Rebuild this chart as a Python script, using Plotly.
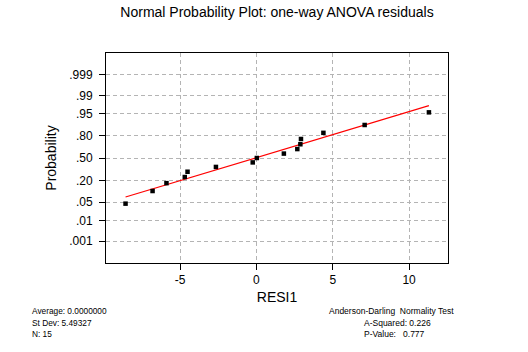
from statistics import NormalDist
import plotly.graph_objects as go

# ---- data ----
residuals = [-8.57, -6.80, -5.89, -4.69, -4.51, -2.65, -0.24, 0.03,
             1.80, 2.68, 2.88, 2.92, 4.39, 7.09, 11.30]
probabilities = [0.045, 0.110, 0.175, 0.240, 0.305, 0.370, 0.435, 0.500,
                 0.565, 0.630, 0.695, 0.760, 0.825, 0.890, 0.955]
fit_x = [-8.57, 11.30]
fit_prob = [0.0735, 0.974]
prob_ticks = [0.001, 0.01, 0.05, 0.20, 0.50, 0.80, 0.95, 0.99, 0.999]
prob_tick_labels = [".001", ".01", ".05", ".20", ".50", ".80", ".95", ".99", ".999"]
x_ticks = [-5, 0, 5, 10]
stats_left = ["Average: 0.0000000", "St Dev: 5.49327", "N: 15"]
stats_right = ["Anderson-Darling  Normality Test", "A-Squared: 0.226",
               "P-Value:\u00a0\u00a0\u00a00.777"]

nd = NormalDist()
z = lambda p: nd.inv_cdf(p)

W, H = 528, 352
L, R, T, B = 106, 80, 53, 89
FONT = "Liberation Sans, Arial, sans-serif"

fig = go.Figure()
fig.add_trace(go.Scatter(x=fit_x, y=[z(p) for p in fit_prob], mode="lines",
                         line=dict(color="#ff0000", width=1.2), showlegend=False))
fig.add_trace(go.Scatter(x=residuals, y=[z(p) for p in probabilities], mode="markers",
                         marker=dict(symbol="square", size=4.5, color="black",
                                     line=dict(width=0)), showlegend=False))

grid = dict(showgrid=True, gridcolor="#b4b4b4", gridwidth=1, griddash="4px,3px",
            zeroline=False, showline=True, linecolor="black", linewidth=1,
            mirror=True, ticks="outside", ticklen=6, tickcolor="black",
            tickfont=dict(family=FONT, size=12, color="black"))

fig.update_xaxes(range=[-9.85, 12.55], tickmode="array", tickvals=x_ticks,
                 ticktext=[str(v) for v in x_ticks],
                 title=dict(text="RESI1", font=dict(family=FONT, size=14, color="black"),
                            standoff=5),
                 **grid)
fig.update_yaxes(range=[-3.9, 3.9], tickmode="array",
                 tickvals=[z(p) for p in prob_ticks], ticktext=prob_tick_labels,
                 ticklabelstandoff=4,
                 title=dict(text="Probability", font=dict(family=FONT, size=14, color="black"),
                            standoff=9),
                 **grid)

ann = []
for i, t in enumerate(stats_left):
    ann.append(dict(text=t, xref="paper", yref="paper",
                    x=(30 - L) / (W - L - R), y=(H - B - (311 + 11.5 * i)) / (H - T - B),
                    xanchor="left", yanchor="middle", showarrow=False,
                    font=dict(family=FONT, size=8.3, color="black")))
rx = [327, 362, 362]
for i, t in enumerate(stats_right):
    ann.append(dict(text=t, xref="paper", yref="paper",
                    x=(rx[i] - L) / (W - L - R), y=(H - B - (311 + 11.5 * i)) / (H - T - B),
                    xanchor="left", yanchor="middle", showarrow=False,
                    font=dict(family=FONT, size=8.5, color="black")))

fig.update_layout(
    width=W, height=H,
    margin=dict(l=L, r=R, t=T, b=B, autoexpand=False),
    paper_bgcolor="white", plot_bgcolor="white",
    title=dict(text="Normal Probability Plot: one-way ANOVA residuals",
               x=0.5, xref="paper", xanchor="center",
               y=1 - 12 / H, yref="container", yanchor="middle",
               font=dict(family=FONT, size=14, color="black")),
    annotations=ann,
    font=dict(family=FONT, color="black"),
)
fig.write_html("out.html")
